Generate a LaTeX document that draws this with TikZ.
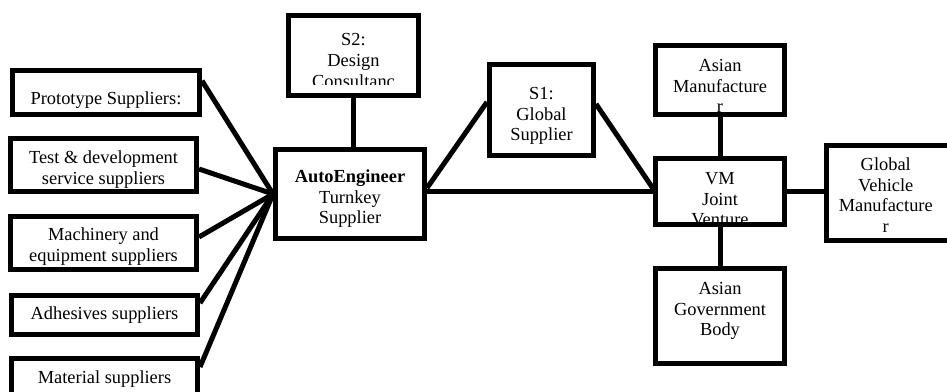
\documentclass[tikz,border=0pt]{standalone}
\usepackage{fontspec}
\setmainfont{Liberation Serif}
\usetikzlibrary{calc}

\begin{document}
\begin{tikzpicture}[
        x=0.75pt, y=-0.75pt,
        every node/.style={font=\fontsize{13.8}{15.5}\selectfont},
        boxnode/.style 2 args={draw, line width=3.75pt, inner sep=0pt, minimum width=#1, minimum height=#2},
        % text shift, text, and how far above the bottom edge the text is cut
        boxtext/.style n args={3}{path picture={
            \clip (path picture bounding box.north west)
                rectangle ($(path picture bounding box.south east)+(0,-#3)$);
            \node[anchor=north, align=center, inner sep=0pt, minimum width=0pt, minimum height=0pt, draw=none]
                at ($(path picture bounding box.north)+(#1)$) {\strut #2};}},
        link/.style={line width=3.75pt}
    ]
  \useasboundingbox (0,0) rectangle (947,392);

  %%% Supplier boxes on the left
  \node[boxnode={140.25pt}{33pt}, boxtext={0,16.5}{Prototype Suppliers:}{6.5}] (proto) at (106,92.8) {};
  \node[boxnode={139.5pt}{39.75pt}, boxtext={0,8}{Test \& development\\service suppliers}{0}] (test) at (103.5,165) {};
  \node[boxnode={139.5pt}{39.75pt}, boxtext={0,7}{Machinery and\\equipment suppliers}{0}] (mach) at (103.5,243) {};
  \node[boxnode={139.5pt}{29.25pt}, boxtext={0,7}{Adhesives suppliers}{0}] (adh) at (104.5,315) {};
  \node[boxnode={139.5pt}{29.25pt}, boxtext={0,8}{Material suppliers}{0}] (mat) at (104.5,378) {};

  %%% Centre
  \node[boxnode={97.5pt}{60pt}, boxtext={0,13.3}{S2:\\Design\\Consultanc}{10.5}] (s2) at (353.5,55.5) {};
  \node[boxnode={111.75pt}{66.75pt}, boxtext={0,16}{\textbf{AutoEngineer}\\Turnkey\\Supplier}{0}] (ae) at (350,194) {};
  \node[boxnode={78pt}{68.25pt}, boxtext={0,18}{S1:\\Global\\Supplier}{0}] (s1) at (541.5,110) {};

  %%% Joint venture side
  \node[boxnode={96.75pt}{51.75pt}, boxtext={0,9}{Asian\\Manufacture\\r}{0}] (asman) at (720,80) {};
  \node[boxnode={96.75pt}{49.5pt}, boxtext={0,9}{VM\\Joint\\Venture}{0}] (vm) at (720,191.5) {};
  \node[boxnode={100.9pt}{71.25pt}, boxtext={-8,8}{Global\\Vehicle\\Manufacture\\r}{0}] (gvm) at (893.75,193) {};
  \node[boxnode={96.75pt}{71.25pt}, boxtext={0,9}{Asian\\Government\\Body}{0}] (agb) at (720,316) {};

  % Suppliers into the turnkey supplier
  \draw[link] ($(proto.east)+(0,-12)$) -- (ae.west);
  \draw[link] ($(test.east)+(0,4)$) -- (ae.west);
  \draw[link] ($(mach.east)+(0,-6)$) -- (ae.west);
  \draw[link] ($(adh.east)+(0,-12)$) -- (ae.west);
  \draw[link] ($(mat.east)+(0,-11)$) -- (ae.west);
  \draw[link] (s2.south) -- (s2.south |- ae.north);

  % Turnkey supplier, global supplier and the joint venture
  \draw[link] ($(ae.east)+(0,-6)$) -- ($(s1.west)+(0,-8)$);
  \draw[link] ($(s1.east)+(0,-6)$) -- ($(vm.west)+(0,-3)$);
  \draw[link] (vm.west -| ae.east) -- (vm.west);
  \draw[link] (asman.south) -- (vm.north);
  \draw[link] (vm.south) -- (agb.north);
  \draw[link] (vm.east) -- (vm.east -| gvm.west);
\end{tikzpicture}
\end{document}
